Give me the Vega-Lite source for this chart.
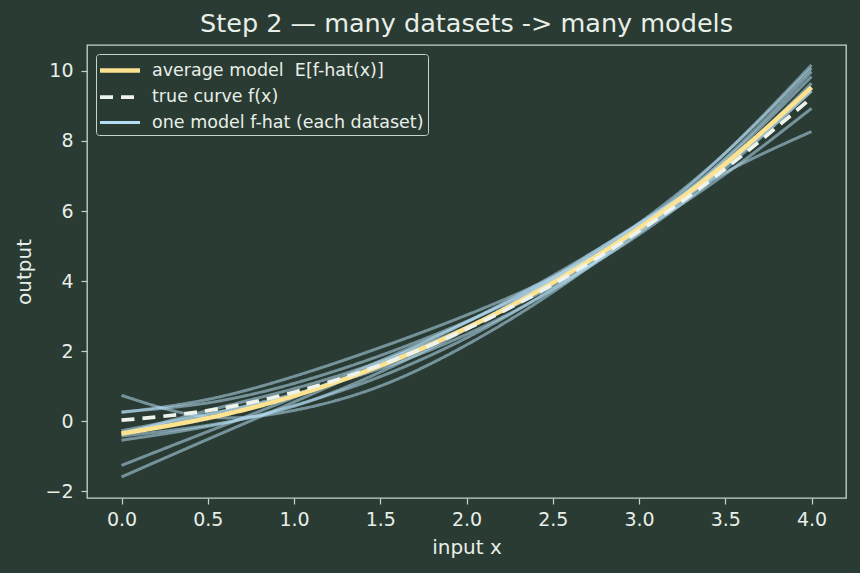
{
  "$schema": "https://vega.github.io/schema/vega-lite/v6.json",
  "width": 759,
  "height": 453,
  "autosize": {"type": "none"},
  "padding": {"left": 87, "top": 45, "right": 14, "bottom": 75},
  "background": "#2a3b33",
  "title": {"text": "Step 2 — many datasets -> many models", "frame": "group", "anchor": "middle", "fontSize": 25.5, "font": "DejaVu Sans", "fontWeight": "normal", "color": "#e8efe8", "offset": 8},
  "config": {
    "view": {"stroke": "#c5d5c9", "strokeWidth": 1.3},
    "axis": {"domain": false, "grid": false, "tickColor": "#c5d5c9", "tickSize": 6, "tickWidth": 1.2, "labelColor": "#e8efe8", "labelFont": "DejaVu Sans", "labelFontSize": 19, "titleFont": "DejaVu Sans", "titleFontSize": 20, "titleFontWeight": "normal", "titleColor": "#e8efe8"},
    "legend": {"orient": "none", "legendX": 9, "legendY": 9, "fillColor": "#2a3b33", "strokeColor": "#c5d5c9", "cornerRadius": 3, "padding": 4, "labelFont": "DejaVu Sans", "labelFontSize": 17.5, "labelColor": "#e8efe8", "symbolType": "M-1.25,0H2.75", "symbolSize": 400, "symbolOpacity": 1, "labelOffset": 27, "rowPadding": 5, "labelLimit": 400}
  },
  "datasets": {
    "models": [
      {"model": "m1", "x": 0, "y": 0.74}, {"model": "m1", "x": 0.5, "y": 0.125}, {"model": "m1", "x": 1, "y": 0.31}, {"model": "m1", "x": 1.5, "y": 1.005}, {"model": "m1", "x": 2, "y": 2.18}, {"model": "m1", "x": 2.5, "y": 3.685}, {"model": "m1", "x": 3, "y": 5.51}, {"model": "m1", "x": 3.5, "y": 7.655}, {"model": "m1", "x": 4, "y": 10.17},
      {"model": "m2", "x": 0, "y": -1.59}, {"model": "m2", "x": 0.5, "y": -0.515}, {"model": "m2", "x": 1, "y": 0.55}, {"model": "m2", "x": 1.5, "y": 1.655}, {"model": "m2", "x": 2, "y": 2.83}, {"model": "m2", "x": 2.5, "y": 4.155}, {"model": "m2", "x": 3, "y": 5.63}, {"model": "m2", "x": 3.5, "y": 7.305}, {"model": "m2", "x": 4, "y": 9.43},
      {"model": "m3", "x": 0, "y": -1.26}, {"model": "m3", "x": 0.5, "y": -0.295}, {"model": "m3", "x": 1, "y": 0.68}, {"model": "m3", "x": 1.5, "y": 1.725}, {"model": "m3", "x": 2, "y": 2.83}, {"model": "m3", "x": 2.5, "y": 4.085}, {"model": "m3", "x": 3, "y": 5.58}, {"model": "m3", "x": 3.5, "y": 7.455}, {"model": "m3", "x": 4, "y": 9.84},
      {"model": "m4", "x": 0, "y": 0.25}, {"model": "m4", "x": 0.5, "y": 0.625}, {"model": "m4", "x": 1, "y": 1.28}, {"model": "m4", "x": 1.5, "y": 2.105}, {"model": "m4", "x": 2, "y": 3.03}, {"model": "m4", "x": 2.5, "y": 4.105}, {"model": "m4", "x": 3, "y": 5.43}, {"model": "m4", "x": 3.5, "y": 7.055}, {"model": "m4", "x": 4, "y": 8.93},
      {"model": "m5", "x": 0, "y": 0.27}, {"model": "m5", "x": 0.5, "y": 0.525}, {"model": "m5", "x": 1, "y": 1.08}, {"model": "m5", "x": 1.5, "y": 1.875}, {"model": "m5", "x": 2, "y": 2.85}, {"model": "m5", "x": 2.5, "y": 4.025}, {"model": "m5", "x": 3, "y": 5.48}, {"model": "m5", "x": 3.5, "y": 7.305}, {"model": "m5", "x": 4, "y": 9.65},
      {"model": "m6", "x": 0, "y": -0.27}, {"model": "m6", "x": 0.5, "y": 0.205}, {"model": "m6", "x": 1, "y": 0.75}, {"model": "m6", "x": 1.5, "y": 1.605}, {"model": "m6", "x": 2, "y": 2.68}, {"model": "m6", "x": 2.5, "y": 4.005}, {"model": "m6", "x": 3, "y": 5.65}, {"model": "m6", "x": 3.5, "y": 7.655}, {"model": "m6", "x": 4, "y": 10.08},
      {"model": "m7", "x": 0, "y": -0.54}, {"model": "m7", "x": 0.5, "y": -0.145}, {"model": "m7", "x": 1, "y": 0.45}, {"model": "m7", "x": 1.5, "y": 1.275}, {"model": "m7", "x": 2, "y": 2.38}, {"model": "m7", "x": 2.5, "y": 3.785}, {"model": "m7", "x": 3, "y": 5.48}, {"model": "m7", "x": 3.5, "y": 7.505}, {"model": "m7", "x": 4, "y": 9.98},
      {"model": "m8", "x": 0, "y": -0.32}, {"model": "m8", "x": 0.5, "y": 0.185}, {"model": "m8", "x": 1, "y": 0.78}, {"model": "m8", "x": 1.5, "y": 1.505}, {"model": "m8", "x": 2, "y": 2.48}, {"model": "m8", "x": 2.5, "y": 3.755}, {"model": "m8", "x": 3, "y": 5.38}, {"model": "m8", "x": 3.5, "y": 7.305}, {"model": "m8", "x": 4, "y": 9.53},
      {"model": "m9", "x": 0, "y": -0.37}, {"model": "m9", "x": 0.5, "y": 0.305}, {"model": "m9", "x": 1, "y": 0.93}, {"model": "m9", "x": 1.5, "y": 1.705}, {"model": "m9", "x": 2, "y": 2.68}, {"model": "m9", "x": 2.5, "y": 3.855}, {"model": "m9", "x": 3, "y": 5.33}, {"model": "m9", "x": 3.5, "y": 7.205}, {"model": "m9", "x": 4, "y": 9.43},
      {"model": "m10", "x": 0, "y": -0.42}, {"model": "m10", "x": 0.5, "y": -0.115}, {"model": "m10", "x": 1, "y": 0.43}, {"model": "m10", "x": 1.5, "y": 1.405}, {"model": "m10", "x": 2, "y": 2.63}, {"model": "m10", "x": 2.5, "y": 4.085}, {"model": "m10", "x": 3, "y": 5.65}, {"model": "m10", "x": 3.5, "y": 7.105}, {"model": "m10", "x": 4, "y": 8.27}
    ],
    "avg": [
      {"x": 0, "y": -0.351}, {"x": 0.5, "y": 0.09}, {"x": 1, "y": 0.724}, {"x": 1.5, "y": 1.586}, {"x": 2, "y": 2.657}, {"x": 2.5, "y": 3.954}, {"x": 3, "y": 5.512}, {"x": 3.5, "y": 7.355}, {"x": 4, "y": 9.531}
    ],
    "truth": [
      {"x": 0, "y": 0.03}, {"x": 0.5, "y": 0.305}, {"x": 1, "y": 0.83}, {"x": 1.5, "y": 1.605}, {"x": 2, "y": 2.63}, {"x": 2.5, "y": 3.905}, {"x": 3, "y": 5.43}, {"x": 3.5, "y": 7.205}, {"x": 4, "y": 9.23}
    ]
  },
  "encoding": {
    "x": {"field": "x", "type": "quantitative", "title": "input x", "scale": {"domain": [-0.2, 4.2], "nice": false, "zero": false}, "axis": {"values": [0, 0.5, 1, 1.5, 2, 2.5, 3, 3.5, 4], "format": ".1f", "labelPadding": 6, "titlePadding": 8}},
    "y": {"field": "y", "type": "quantitative", "title": "output", "scale": {"domain": [-2.19, 10.74], "nice": false, "zero": false}, "axis": {"values": [-2, 0, 2, 4, 6, 8, 10], "labelPadding": 8, "titlePadding": 10}}
  },
  "layer": [
    {
      "data": {"name": "models"},
      "mark": {"type": "line", "interpolate": "natural", "opacity": 0.55},
      "encoding": {
        "detail": {"field": "model"},
        "color": {"datum": "one model f-hat (each dataset)", "scale": {"domain": ["average model \u00a0E[f-hat(x)]", "true curve f(x)", "one model f-hat (each dataset)"], "range": ["#fde28f", "#eef3ec", "#b5ddf3"]}, "legend": {"title": null}},
        "strokeDash": {"datum": "one model f-hat (each dataset)", "scale": {"domain": ["average model \u00a0E[f-hat(x)]", "true curve f(x)", "one model f-hat (each dataset)"], "range": [[1, 0], [13, 8], [1, 0]]}, "legend": {"title": null}},
        "strokeWidth": {"datum": "one model f-hat (each dataset)", "scale": {"domain": ["average model \u00a0E[f-hat(x)]", "true curve f(x)", "one model f-hat (each dataset)"], "range": [4.5, 3, 2]}, "legend": {"title": null}}
      }
    },
    {
      "data": {"name": "avg"},
      "mark": {"type": "line", "interpolate": "natural"},
      "encoding": {
        "color": {"datum": "average model \u00a0E[f-hat(x)]"},
        "strokeDash": {"datum": "average model \u00a0E[f-hat(x)]"},
        "strokeWidth": {"datum": "average model \u00a0E[f-hat(x)]"}
      }
    },
    {
      "data": {"name": "truth"},
      "mark": {"type": "line", "interpolate": "natural"},
      "encoding": {
        "color": {"datum": "true curve f(x)"},
        "strokeDash": {"datum": "true curve f(x)"},
        "strokeWidth": {"datum": "true curve f(x)"}
      }
    }
  ]
}
